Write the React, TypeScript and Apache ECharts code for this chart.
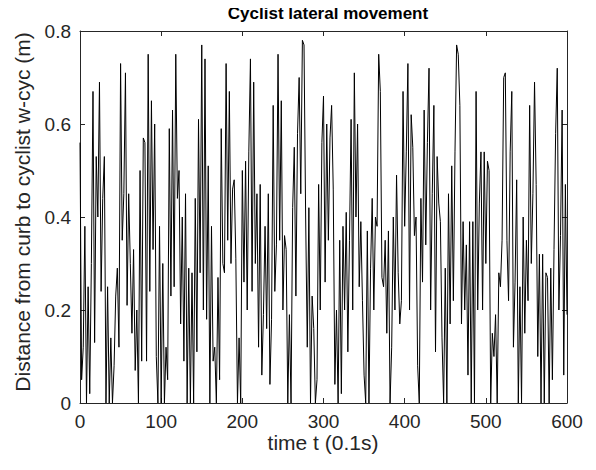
import React, { useEffect, useRef } from "react";
import * as echarts from "echarts";

const SAMPLE_STEP = 2; // time units between samples (0.1 s each)

const seg0 = [0.56, 0.05, 0.12, 0.38, 0.0, 0.25, 0.02, 0.30, 0.67, 0.13, 0.53, 0.40, 0.69, 0.24, 0.44, 0.53, 0.0, 0.25, 0.0, 0.14, 0.0, 0.08, 0.23, 0.29, 0.12, 0.73, 0.35, 0.45, 0.71, 0.21, 0.45];
const seg1 = [0.3, 0.15, 0.33, 0.07, 0.2, 0.0, 0.5, 0.09, 0.57, 0.56, 0.09, 0.75, 0.24, 0.65, 0.33, 0.6, 0.1, 0.0, 0.38, 0.0, 0.3, 0.0, 0.12, 0.05, 0.59, 0.23, 0.63, 0.25, 0.75, 0.44, 0.5];
const seg2 = [0.17, 0.4, 0.09, 0.45, 0.0, 0.29, 0.0, 0.28, 0.0, 0.44, 0.11, 0.61, 0.28, 0.77, 0.2, 0.74, 0.18, 0.51, 0.0, 0.38, 0.09, 0.12, 0.0, 0.27, 0.05, 0.59, 0.3, 0.28, 0.73, 0.35, 0.67];
const seg3 = [0.3, 0.46, 0.48, 0.31, 0.0, 0.14, 0.0, 0.5, 0.26, 0.52, 0.2, 0.54, 0.74, 0.24, 0.69, 0.3, 0.45, 0.12, 0.47, 0.06, 0.19, 0.38, 0.16, 0.45, 0.04, 0.18, 0.64, 0.24, 0.34, 0.75, 0.35];
const seg4 = [0.65, 0.2, 0.36, 0.33, 0.0, 0.19, 0.0, 0.42, 0.55, 0.23, 0.58, 0.7, 0.45, 0.78, 0.77, 0.4, 0.12, 0.42, 0.0, 0.23, 0.16, 0.0, 0.05, 0.47, 0.2, 0.56, 0.66, 0.26, 0.6, 0.35, 0.57];
const seg5 = [0.64, 0.46, 0.04, 0.2, 0.0, 0.35, 0.02, 0.38, 0.2, 0.41, 0.11, 0.35, 0.61, 0.2, 0.71, 0.4, 0.6, 0.25, 0.39, 0.22, 0.06, 0.0, 0.37, 0.0, 0.29, 0.44, 0.2, 0.4, 0.38, 0.75];
const seg6 = [0.67, 0.27, 0.25, 0.35, 0.15, 0.37, 0.0, 0.12, 0.4, 0.2, 0.49, 0.28, 0.17, 0.22, 0.67, 0.38, 0.54, 0.73, 0.2, 0.62, 0.55, 0.36, 0.4, 0.08, 0.0, 0.44, 0.26, 0.63, 0.34, 0.56, 0.72];
const seg7 = [0.2, 0.45, 0.64, 0.11, 0.53, 0.43, 0.39, 0.14, 0.0, 0.29, 0.0, 0.45, 0.17, 0.51, 0.22, 0.54, 0.77, 0.75, 0.64, 0.17, 0.39, 0.2, 0.34, 0.06, 0.39, 0.0, 0.39, 0.0, 0.67, 0.2, 0.43];
const seg8 = [0.54, 0.2, 0.54, 0.3, 0.52, 0.5, 0.0, 0.15, 0.1, 0.19, 0.0, 0.28, 0.25, 0.35, 0.7, 0.71, 0.35, 0.22, 0.54, 0.67, 0.12, 0.26, 0.48, 0.0, 0.25, 0.0, 0.4, 0.15, 0.35, 0.22, 0.64];
const seg9 = [0.3, 0.45, 0.69, 0.47, 0.1, 0.32, 0.0, 0.32, 0.0, 0.28, 0.27, 0.0, 0.29, 0.05, 0.33, 0.58, 0.72, 0.2, 0.36, 0.63, 0.06, 0.47, 0.19];

const distance = [...seg0, ...seg1, ...seg2, ...seg3, ...seg4, ...seg5, ...seg6, ...seg7, ...seg8, ...seg9];

const xTicks = [0, 100, 200, 300, 400, 500, 600];
const yTicks = [0, 0.2, 0.4, 0.6, 0.8];

const titleText = "Cyclist lateral movement";
const xLabel = "time t (0.1s)";
const yLabel = "Distance from curb to cyclist w-cyc (m)";

const FONT = '"Liberation Sans", Arial, Helvetica, sans-serif';
const AXIS_COLOR = "#262626";

export default function App() {
  const ref = useRef<HTMLDivElement>(null);
  useEffect(() => {
    if (!ref.current) return;
    const chart = echarts.init(ref.current, null, { renderer: "svg" });
    const data = distance.map((v, i) => [i * SAMPLE_STEP, v]);
    const xMin = xTicks[0];
    const xMax = xTicks[xTicks.length - 1];
    const xInt = xTicks[1] - xTicks[0];
    const yMin = yTicks[0];
    const yMax = yTicks[yTicks.length - 1];
    const yInt = yTicks[1] - yTicks[0];
    const axisCommon = {
      axisLine: { show: true, onZero: false, lineStyle: { color: AXIS_COLOR, width: 1 } },
      axisTick: { show: true, inside: true, length: 5, lineStyle: { color: AXIS_COLOR } },
      splitLine: { show: false },
    };
    chart.setOption({
      animation: false,
      backgroundColor: "#ffffff",
      title: {
        text: titleText,
        left: 323,
        top: 0,
        textAlign: "center",
        textStyle: { fontFamily: FONT, fontSize: 17, fontWeight: "bold", color: "#000" },
      },
      grid: { left: 80, right: 29, top: 31, bottom: 67, containLabel: false },
      xAxis: [
        {
          type: "value",
          min: xMin,
          max: xMax,
          interval: xInt,
          position: "bottom",
          ...axisCommon,
          axisLabel: { show: true, margin: 9, fontFamily: FONT, fontSize: 19, color: AXIS_COLOR },
        },
        {
          type: "value",
          min: xMin,
          max: xMax,
          interval: xInt,
          position: "top",
          ...axisCommon,
          axisLabel: { show: false },
        },
      ],
      yAxis: [
        {
          type: "value",
          min: yMin,
          max: yMax,
          interval: yInt,
          position: "left",
          ...axisCommon,
          axisLabel: {
            show: true,
            margin: 9,
            fontFamily: FONT,
            fontSize: 19,
            color: AXIS_COLOR,
            formatter: (v: number) => String(Math.round(v * 10) / 10),
          },
        },
        {
          type: "value",
          min: yMin,
          max: yMax,
          interval: yInt,
          position: "right",
          ...axisCommon,
          axisLabel: { show: false },
        },
      ],
      graphic: [
        {
          type: "text",
          x: 323,
          y: 442,
          style: {
            text: xLabel,
            align: "center",
            verticalAlign: "middle",
            font: `21px ${FONT}`,
            fill: AXIS_COLOR,
          },
        },
        {
          type: "text",
          x: 22,
          y: 212,
          rotation: Math.PI / 2,
          style: {
            text: yLabel,
            align: "center",
            verticalAlign: "middle",
            font: `21px ${FONT}`,
            fill: AXIS_COLOR,
          },
        },
      ],
      series: [
        {
          type: "line",
          data,
          xAxisIndex: 0,
          yAxisIndex: 0,
          showSymbol: false,
          symbol: "none",
          lineStyle: { color: "#000000", width: 1 },
          clip: true,
        },
      ],
    });
    return () => chart.dispose();
  }, []);
  return <div ref={ref} style={{ width: 596, height: 470, margin: -8 }} />;
}
